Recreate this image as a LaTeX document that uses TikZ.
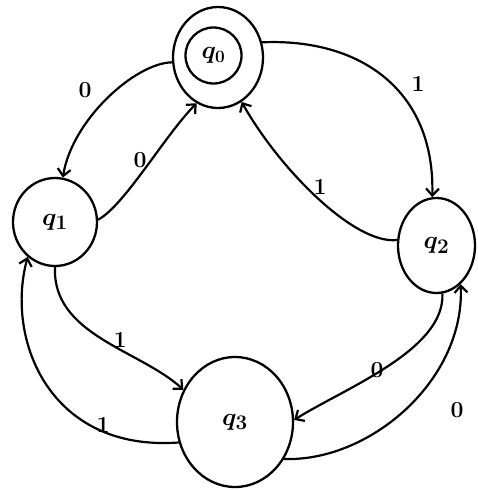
\documentclass[tikz,border=0pt]{standalone}
\usetikzlibrary{shapes.geometric,arrows.meta}
\begin{document}
\begin{tikzpicture}[x=1pt,y=-1pt,
  state/.style={draw, ellipse, line width=2.3pt, inner sep=0pt, font=\fontsize{28}{30}\selectfont\boldmath},
  edge/.style={draw, line width=2.2pt, -{Straight Barb[length=7pt,width=13pt,line width=2.2pt]}},
  lab/.style={font=\fontsize{23}{25}\selectfont\bfseries, inner sep=0pt}]
\useasboundingbox (0,0) rectangle (477,490);
% states
\node[state, minimum width=90pt, minimum height=101pt] (q0) at (218,57.5) {};
\node[state, circle, minimum size=56pt, font=\fontsize{27}{28}\selectfont\boldmath] (q0i) at (213.5,55.5) {$q_0$};
\node[state, minimum width=84pt, minimum height=88pt] (q1) at (55,222) {$q_1$};
\node[state, minimum width=77pt, minimum height=95pt] (q2) at (436.5,245.5) {$q_2$};
\node[state, minimum width=116pt, minimum height=130pt, font=\fontsize{32}{34}\selectfont\boldmath] (q3) at (235,422) {$q_3$};
% transitions
\draw[edge] (q0.186) .. controls (135,63) and (72,120) .. (q1.80);
\draw[edge] (q1.3) .. controls (125,205) and (165,135) .. (q0.245);
\draw[edge] (q0.19) .. controls (360,38) and (435,90) .. (q2.95);
\draw[edge] (q2.172) .. controls (355,245) and (280,170) .. (q0.298);
\draw[edge] (q1.270) .. controls (52,335) and (140,350) .. (q3.148);
\draw[edge] (q3.200) .. controls (50,452) and (5,340) .. (q1.232);
\draw[edge] (q2.277) .. controls (445,350) and (345,388) .. (q3.2);
\draw[edge] (q3.323) .. controls (370,462) and (465,380) .. (q2.302);
% labels
\node[lab] (a01) at (85,90) {0};
\node[lab] (a10) at (140,160) {0};
\node[lab] (a02) at (418,84) {1};
\node[lab] (a20) at (320,187) {1};
\node[lab] (a13) at (120,340) {1};
\node[lab] (a31) at (103,425) {1};
\node[lab] (a23) at (377,370) {0};
\node[lab] (a32) at (457,410) {0};
\end{tikzpicture}
\end{document}
